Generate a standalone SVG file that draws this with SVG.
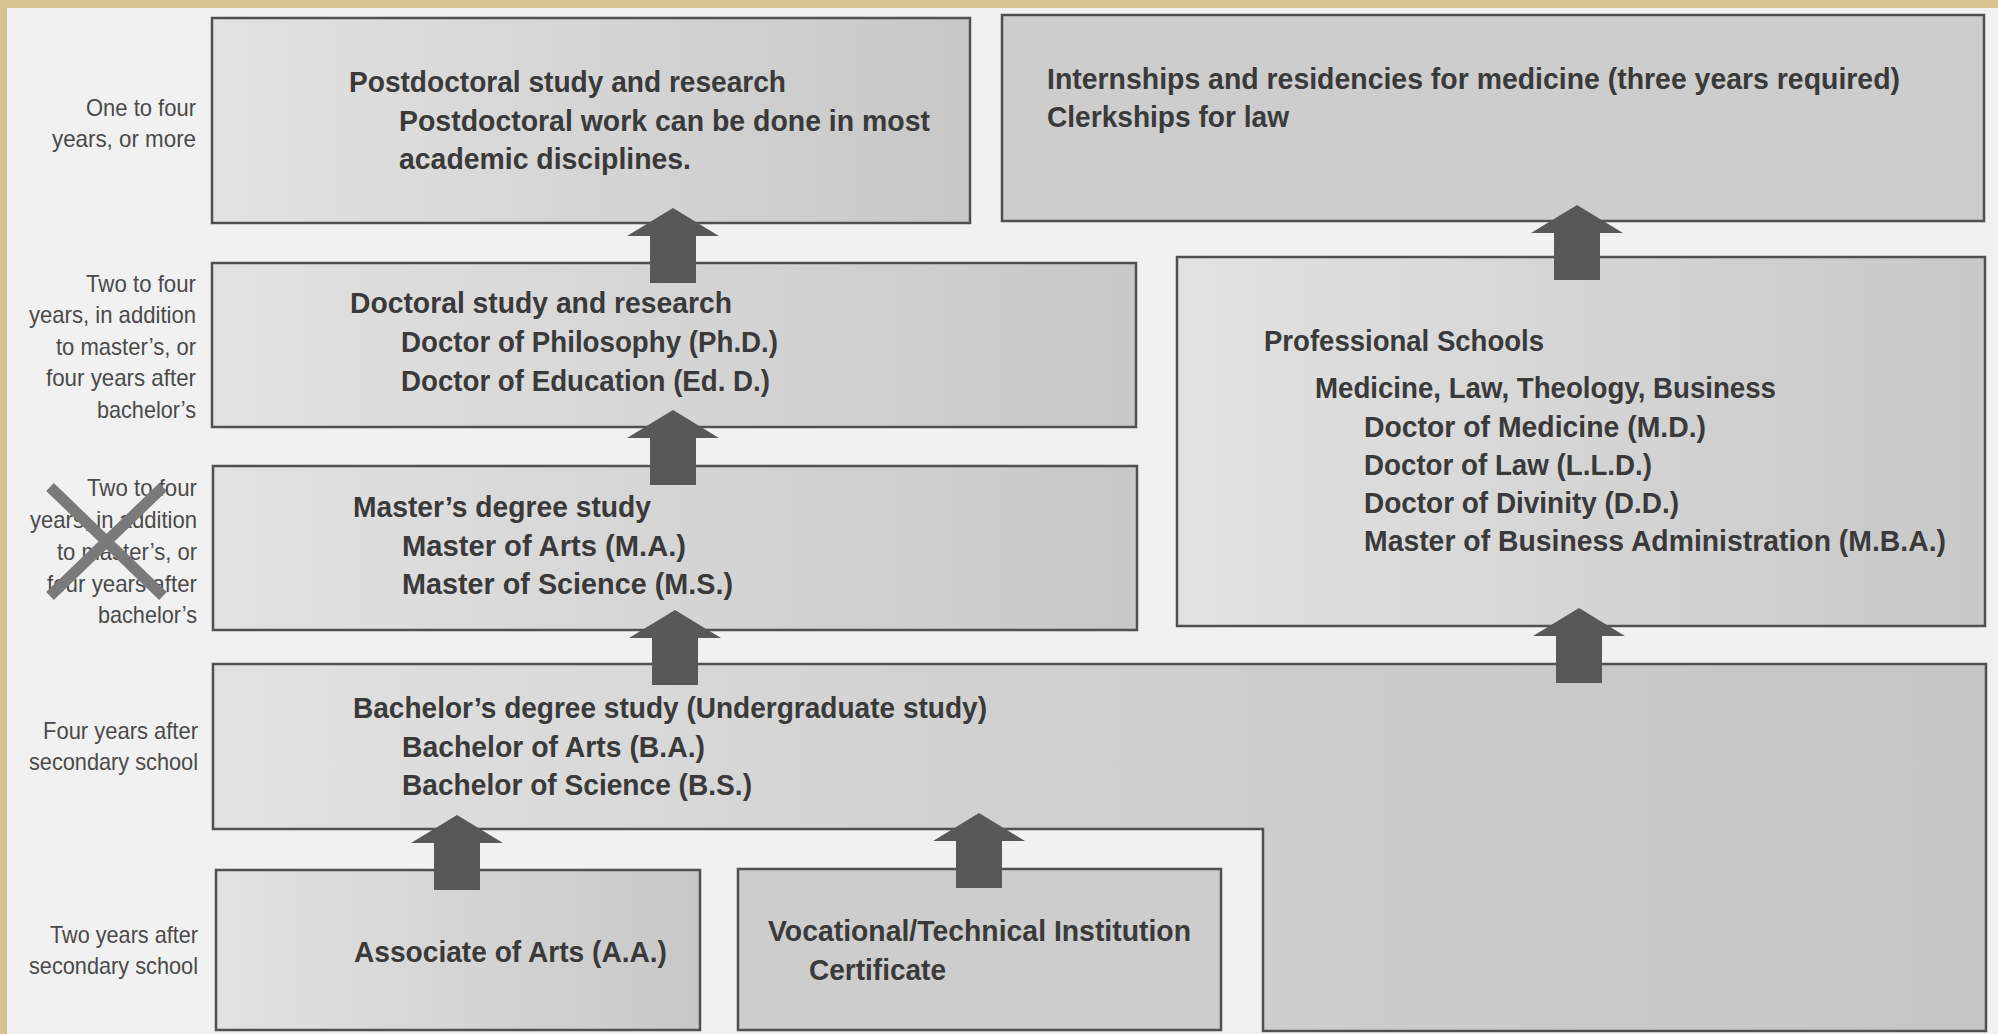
<svg xmlns="http://www.w3.org/2000/svg" width="1998" height="1034" viewBox="0 0 1998 1034">
  <defs>
    <linearGradient id="gBox" x1="0" y1="0" x2="1" y2="0">
      <stop offset="0" stop-color="#e2e2e2"/>
      <stop offset="1" stop-color="#c8c8c8"/>
    </linearGradient>
    <linearGradient id="gBig" x1="0" y1="0" x2="1" y2="0">
      <stop offset="0" stop-color="#e2e2e2"/>
      <stop offset="0.45" stop-color="#d0d0d0"/>
      <stop offset="1" stop-color="#c5c5c5"/>
    </linearGradient>
    <path id="arrow" d="M0,0 L46,28 L23,28 L23,75 L-23,75 L-23,28 L-46,28 Z"/>
    <style>
      .box { stroke: #505050; stroke-width: 2.5; fill: url(#gBox); }
      .big { stroke: #505050; stroke-width: 2.5; fill: url(#gBig); }
      .flat { stroke: #505050; stroke-width: 2.5; fill: #cdcdcd; }
      .t { font-family: "Liberation Sans", Arial, sans-serif; font-weight: bold; font-size: 30px; fill: #3a3a3a; }
      .lab { font-family: "Liberation Sans", Arial, sans-serif; font-size: 24px; fill: #4a4a4a; }
      .arr { fill: #585858; }
      .x { stroke: #7a7a7a; stroke-width: 11; }
    </style>
  </defs>

  <!-- background -->
  <rect x="0" y="0" width="1998" height="1034" fill="#f1f1f1"/>
  <rect x="0" y="0" width="1998" height="8" fill="#d8c390"/>
  <rect x="0" y="0" width="7" height="1034" fill="#d8c390"/>

  <!-- time labels -->
  <g id="labels">
    <text class="lab" x="86" y="116" textLength="110" lengthAdjust="spacingAndGlyphs">One to four</text>
    <text class="lab" x="52" y="147" textLength="144" lengthAdjust="spacingAndGlyphs">years, or more</text>

    <text class="lab" x="86" y="292" textLength="110" lengthAdjust="spacingAndGlyphs">Two to four</text>
    <text class="lab" x="29" y="323" textLength="167" lengthAdjust="spacingAndGlyphs">years, in addition</text>
    <text class="lab" x="56" y="355" textLength="140" lengthAdjust="spacingAndGlyphs">to master’s, or</text>
    <text class="lab" x="46" y="386" textLength="150" lengthAdjust="spacingAndGlyphs">four years after</text>
    <text class="lab" x="97" y="418" textLength="99" lengthAdjust="spacingAndGlyphs">bachelor’s</text>

    <text class="lab" x="87" y="496" textLength="110" lengthAdjust="spacingAndGlyphs">Two to four</text>
    <text class="lab" x="30" y="528" textLength="167" lengthAdjust="spacingAndGlyphs">years, in addition</text>
    <text class="lab" x="57" y="560" textLength="140" lengthAdjust="spacingAndGlyphs">to master’s, or</text>
    <text class="lab" x="47" y="592" textLength="150" lengthAdjust="spacingAndGlyphs">four years after</text>
    <text class="lab" x="98" y="623" textLength="99" lengthAdjust="spacingAndGlyphs">bachelor’s</text>

    <text class="lab" x="43" y="739" textLength="155" lengthAdjust="spacingAndGlyphs">Four years after</text>
    <text class="lab" x="29" y="770" textLength="169" lengthAdjust="spacingAndGlyphs">secondary school</text>

    <text class="lab" x="50" y="943" textLength="148" lengthAdjust="spacingAndGlyphs">Two years after</text>
    <text class="lab" x="29" y="974" textLength="169" lengthAdjust="spacingAndGlyphs">secondary school</text>
  </g>

  <g id="cross">
    <line class="x" x1="50" y1="487" x2="163" y2="596"/>
    <line class="x" x1="163" y1="487" x2="50" y2="596"/>
  </g>

  <!-- nodes -->
  <g id="postdoctoral">
    <rect class="box" x="212" y="18" width="758" height="205"/>
    <text class="t" x="349" y="92" textLength="437" lengthAdjust="spacingAndGlyphs">Postdoctoral study and research</text>
    <text class="t" x="399" y="131" textLength="531" lengthAdjust="spacingAndGlyphs">Postdoctoral work can be done in most</text>
    <text class="t" x="399" y="169" textLength="292" lengthAdjust="spacingAndGlyphs">academic disciplines.</text>
  </g>

  <g id="internships">
    <rect class="flat" x="1002" y="15" width="982" height="206"/>
    <text class="t" x="1047" y="89" textLength="853" lengthAdjust="spacingAndGlyphs">Internships and residencies for medicine (three years required)</text>
    <text class="t" x="1047" y="127" textLength="242" lengthAdjust="spacingAndGlyphs">Clerkships for law</text>
  </g>

  <g id="doctoral">
    <rect class="box" x="212" y="263" width="924" height="164"/>
    <text class="t" x="350" y="313" textLength="382" lengthAdjust="spacingAndGlyphs">Doctoral study and research</text>
    <text class="t" x="401" y="352" textLength="377" lengthAdjust="spacingAndGlyphs">Doctor of Philosophy (Ph.D.)</text>
    <text class="t" x="401" y="391" textLength="369" lengthAdjust="spacingAndGlyphs">Doctor of Education (Ed. D.)</text>
  </g>

  <g id="professional">
    <rect class="box" x="1177" y="257" width="808" height="369"/>
    <text class="t" x="1264" y="351" textLength="280" lengthAdjust="spacingAndGlyphs">Professional Schools</text>
    <text class="t" x="1315" y="398" textLength="461" lengthAdjust="spacingAndGlyphs">Medicine, Law, Theology, Business</text>
    <text class="t" x="1364" y="437" textLength="342" lengthAdjust="spacingAndGlyphs">Doctor of Medicine (M.D.)</text>
    <text class="t" x="1364" y="475" textLength="288" lengthAdjust="spacingAndGlyphs">Doctor of Law (L.L.D.)</text>
    <text class="t" x="1364" y="513" textLength="315" lengthAdjust="spacingAndGlyphs">Doctor of Divinity (D.D.)</text>
    <text class="t" x="1364" y="551" textLength="582" lengthAdjust="spacingAndGlyphs">Master of Business Administration (M.B.A.)</text>
  </g>

  <g id="masters">
    <rect class="box" x="213" y="466" width="924" height="164"/>
    <text class="t" x="353" y="517" textLength="298" lengthAdjust="spacingAndGlyphs">Master’s degree study</text>
    <text class="t" x="402" y="556" textLength="284" lengthAdjust="spacingAndGlyphs">Master of Arts (M.A.)</text>
    <text class="t" x="402" y="594" textLength="331" lengthAdjust="spacingAndGlyphs">Master of Science (M.S.)</text>
  </g>

  <g id="bachelors">
    <path class="big" d="M213,664 L1986,664 L1986,1031 L1263,1031 L1263,829 L213,829 Z"/>
    <text class="t" x="353" y="718" textLength="634" lengthAdjust="spacingAndGlyphs">Bachelor’s degree study (Undergraduate study)</text>
    <text class="t" x="402" y="757" textLength="303" lengthAdjust="spacingAndGlyphs">Bachelor of Arts (B.A.)</text>
    <text class="t" x="402" y="795" textLength="350" lengthAdjust="spacingAndGlyphs">Bachelor of Science (B.S.)</text>
  </g>

  <g id="associate">
    <rect class="box" x="216" y="870" width="484" height="160"/>
    <text class="t" x="354" y="962" textLength="313" lengthAdjust="spacingAndGlyphs">Associate of Arts (A.A.)</text>
  </g>

  <g id="vocational">
    <rect class="flat" x="738" y="869" width="483" height="161"/>
    <text class="t" x="768" y="941" textLength="423" lengthAdjust="spacingAndGlyphs">Vocational/Technical Institution</text>
    <text class="t" x="809" y="980" textLength="137" lengthAdjust="spacingAndGlyphs">Certificate</text>
  </g>

  <!-- connectors -->
  <g id="connectors" class="arr">
    <use href="#arrow" x="673" y="208"/>
    <use href="#arrow" x="673" y="410"/>
    <use href="#arrow" x="675" y="610"/>
    <use href="#arrow" x="457" y="815"/>
    <use href="#arrow" x="979" y="813"/>
    <use href="#arrow" x="1577" y="205"/>
    <use href="#arrow" x="1579" y="608"/>
  </g>
</svg>
